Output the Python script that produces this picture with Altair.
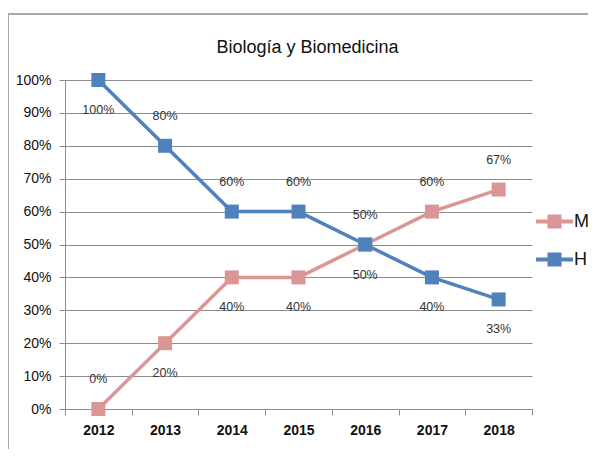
import altair as alt
import pandas as pd

years = ["2012", "2013", "2014", "2015", "2016", "2017", "2018"]
m_values = [0.0, 0.20, 0.40, 0.40, 0.50, 0.60, 0.667]
h_values = [1.00, 0.80, 0.60, 0.60, 0.50, 0.40, 0.333]
h_label_above = [False, True, True, True, False, False, False]
series_names = ["M", "H"]
series_colors = ["#D99694", "#4F81BD"]
title_text = "Biología y Biomedicina"

rows = []
for i, y in enumerate(years):
    rows.append({"year": y, "serie": "M", "value": m_values[i], "above": not h_label_above[i]})
    rows.append({"year": y, "serie": "H", "value": h_values[i], "above": h_label_above[i]})
df = pd.DataFrame(rows)

FONT = "Liberation Sans"

x_enc = alt.X("year:N", title=None, sort=years,
              scale=alt.Scale(type="band", paddingInner=0, paddingOuter=0),
              axis=alt.Axis(labelAngle=0, labelFontWeight="bold", labelFontSize=14,
                            labelColor="#111", labelFont=FONT, tickBand="extent",
                            tickSize=6, tickColor="#8c8c8c", domainColor="#8c8c8c",
                            labelPadding=8))
y_enc = alt.Y("value:Q", title=None,
              scale=alt.Scale(domain=[0, 1], nice=False),
              axis=alt.Axis(values=[i / 10 for i in range(11)], format=".0%",
                            labelFontSize=14, labelColor="#111", labelFont=FONT,
                            gridColor="#8c8c8c", tickColor="#8c8c8c", domainColor="#8c8c8c",
                            tickSize=6, labelPadding=8))
scale_c = alt.Scale(domain=series_names, range=series_colors)

legend = alt.Legend(
    title=None, orient="none", legendX=471, legendY=123,
    symbolType="M-1,-0.11H1V0.11H-1Z M-0.38,-0.38H0.38V0.38H-0.38Z",
    symbolSize=1369, symbolStrokeWidth=0, symbolOpacity=1,
    labelFontSize=18, labelFont=FONT, labelColor="#111",
    labelOffset=1, rowPadding=10)

base = alt.Chart(df).encode(x=x_enc, y=y_enc)

lines = base.mark_line(strokeWidth=3.5).encode(
    color=alt.Color("serie:N", scale=scale_c, sort=series_names, legend=legend),
    detail="serie:N",
)
squares = base.mark_square(size=196, opacity=1, filled=True).encode(
    color=alt.Color("serie:N", scale=scale_c, sort=series_names, legend=legend),
)
txt_above = base.mark_text(dy=-30, fontSize=12.5, font=FONT, color="#333").encode(
    text=alt.Text("value:Q", format=".0%")
).transform_filter("datum.above")
txt_below = base.mark_text(dy=30, fontSize=12.5, font=FONT, color="#333").encode(
    text=alt.Text("value:Q", format=".0%")
).transform_filter("!datum.above")

border_df = pd.DataFrame({"k": [0]})
border_top = alt.Chart(border_df).mark_rule(color="#a8a8a8", strokeWidth=2).encode(
    x=alt.value(-57), x2=alt.value(540), y=alt.value(-66))
border_left = alt.Chart(border_df).mark_rule(color="#a8a8a8", strokeWidth=2).encode(
    x=alt.value(-57), y=alt.value(-66), y2=alt.value(380))

chart = alt.layer(border_top, border_left, lines, squares, txt_above, txt_below).properties(
    width=467, height=329,
    title=alt.TitleParams(title_text, font=FONT, fontSize=18, fontWeight="normal",
                          color="#111", offset=-44, dx=9, anchor="middle"),
    autosize=alt.AutoSizeParams(type="none"),
    padding={"left": 57, "top": 72, "right": 56, "bottom": 40},
).configure_view(stroke=None)

chart.save("out.html", embed_options={"renderer": "svg", "actions": False})
